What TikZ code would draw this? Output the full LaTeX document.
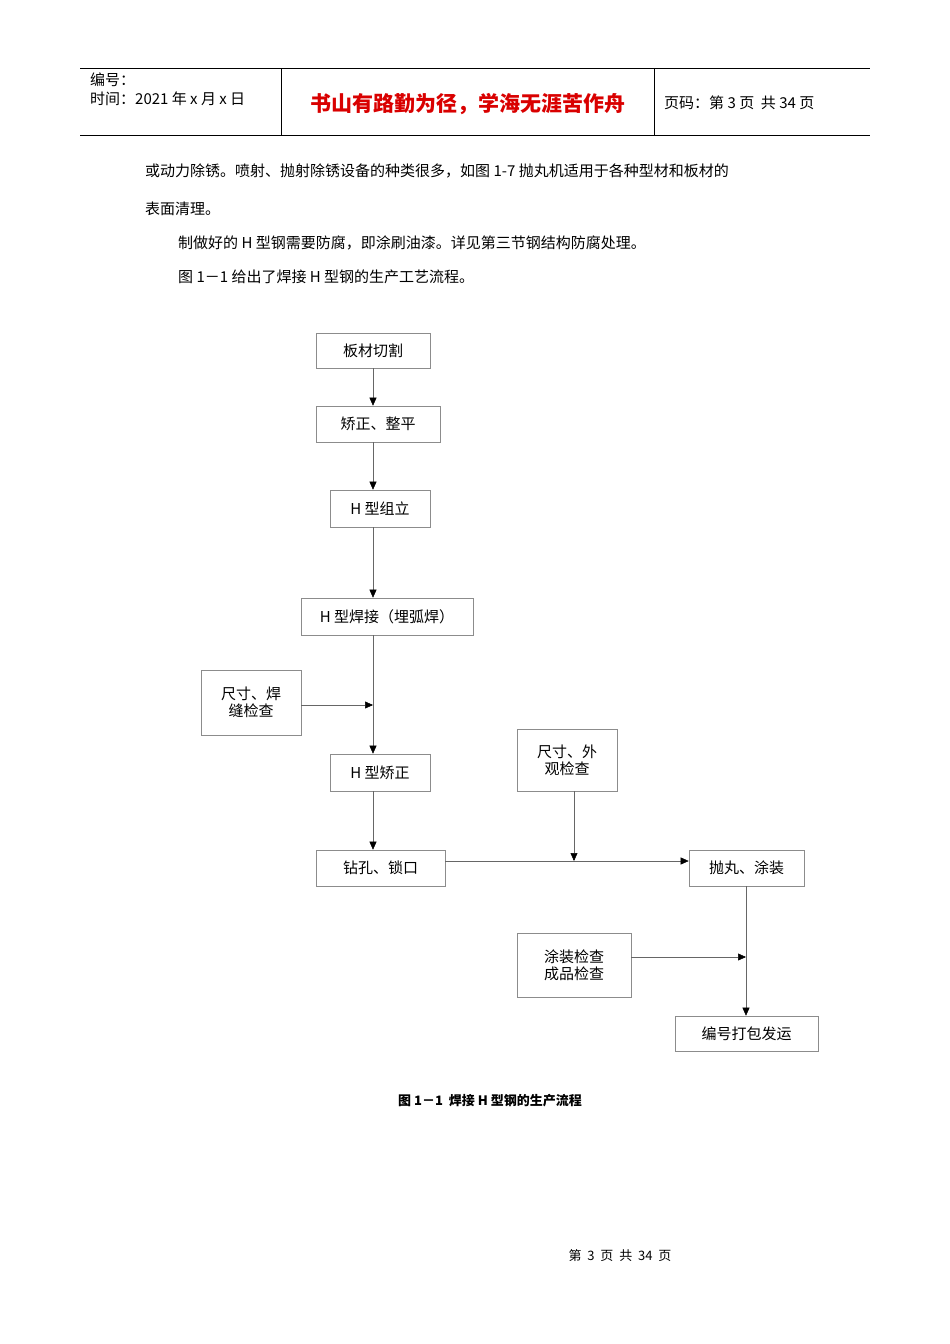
\documentclass[tikz,border=0pt]{standalone}
\usepackage{fontspec}
\setmainfont{Liberation Sans}
\newfontfamily\cjk{Noto Sans CJK SC}
\usetikzlibrary{arrows.meta}
\begin{document}
\begin{tikzpicture}[x=1pt,y=-1pt,
  box/.style={draw=black!45,line width=0.6pt,font=\cjk\fontsize{15}{17}\selectfont,align=center,inner sep=0pt},
  con/.style={draw=black!60,line width=0.5pt,-{Triangle[black,length=8pt,width=7pt]}},
  ln/.style={draw=black!60,line width=0.5pt},
  txt/.style={font=\cjk\fontsize{15}{17}\selectfont,anchor=west,inner sep=0pt}]
\useasboundingbox (0,0) rectangle (950,1344);
% header
\draw[line width=0.6pt] (80,68) -- (870,68) (80,135) -- (870,135);
\draw[line width=0.6pt] (281,68) -- (281,135) (654,68) -- (654,135);
\node[txt,font=\cjk\fontsize{15}{17}\selectfont] (h1) at (90,80) {编号：};
\node[txt,font=\cjk\fontsize{15}{17}\selectfont] (h2) at (90,99) {时间：2021 年 x 月 x 日};
\node[font=\cjk\bfseries\fontsize{21}{24}\selectfont,text=red!85!black] (ht) at (468,104) {书山有路勤为径，学海无涯苦作舟};
\node[txt] (h3) at (664,103) {页码：第 3 页 \ 共 34 页};
% body text
\node[txt] (t1) at (145,171) {或动力除锈。喷射、抛射除锈设备的种类很多，如图 1-7 抛丸机适用于各种型材和板材的};
\node[txt] (t2) at (145,209) {表面清理。};
\node[txt] (t3) at (178,243) {制做好的 H 型钢需要防腐，即涂刷油漆。详见第三节钢结构防腐处理。};
\node[txt] (t4) at (178,277) {图 1－1 给出了焊接 H 型钢的生产工艺流程。};
% boxes
\node[box,minimum width=114pt,minimum height=35pt] (b1) at (373,350.5) {板材切割};
\node[box,minimum width=124pt,minimum height=36pt] (b2) at (378,424) {矫正、整平};
\node[box,minimum width=100pt,minimum height=37pt] (b3) at (380,508.5) {H 型组立};
\node[box,minimum width=172pt,minimum height=37pt] (b4) at (387,616.5) {H 型焊接（埋弧焊）};
\node[box,minimum width=100pt,minimum height=65pt] (b5) at (251,702.5) {尺寸、焊\\缝检查};
\node[box,minimum width=100pt,minimum height=37pt] (b6) at (380,772.5) {H 型矫正};
\node[box,minimum width=100pt,minimum height=62pt] (b7) at (567,760) {尺寸、外\\观检查};
\node[box,minimum width=129pt,minimum height=36pt] (b8) at (380.5,868) {钻孔、锁口};
\node[box,minimum width=115pt,minimum height=36pt] (b9) at (746.5,868) {抛丸、涂装};
\node[box,minimum width=114pt,minimum height=64pt] (b10) at (574,965) {涂装检查\\成品检查};
\node[box,minimum width=143pt,minimum height=35pt] (b11) at (746.5,1033.5) {编号打包发运};
% connectors
\coordinate (c5) at (373,705);
\coordinate (c7) at (574,861);
\coordinate (c10) at (746,957);
\draw[con] (b1.south -| 373,0) -- (b2.north -| 373,0);
\draw[con] (b2.south -| 373,0) -- (b3.north -| 373,0);
\draw[con] (b3.south -| 373,0) -- (b4.north -| 373,0);
\draw[con] (b4.south -| 373,0) -- (b6.north -| 373,0);
\draw[con] (b5.east |- c5) -- (c5);
\draw[con] (b6.south -| 373,0) -- (b8.north -| 373,0);
\draw[con] (b8.east |- c7) -- (b9.west |- c7);
\draw[con] (b7.south -| c7) -- (c7);
\draw[con] (b9.south -| c10) -- (b11.north -| c10);
\draw[con] (b10.east |- c10) -- (c10);
% caption & footer
\node[font=\cjk\bfseries\fontsize{13}{15}\selectfont] (cap) at (490,1101) {图 1－1 \ 焊接 H 型钢的生产流程};
\node[font=\cjk\fontsize{13}{15}\selectfont] (ft) at (620,1256) {第 \ 3 \ 页 \ 共 \ 34 \ 页};
\end{tikzpicture}
\end{document}
